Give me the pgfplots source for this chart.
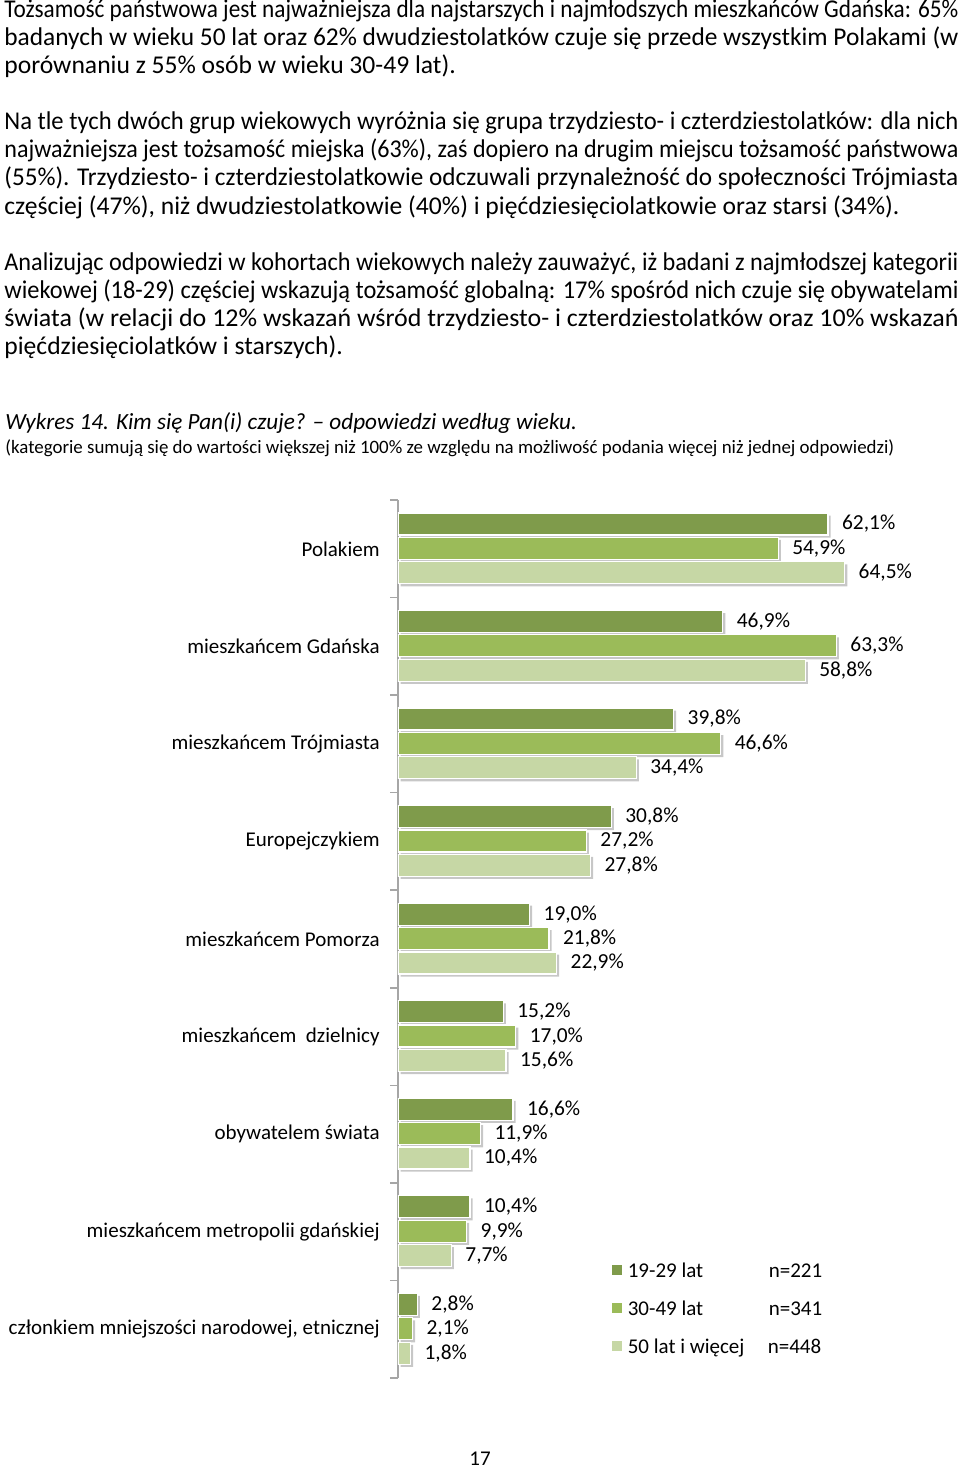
\documentclass[border=0pt]{standalone}
\usepackage{fontspec}
\setmainfont{Carlito}
\usepackage{graphicx}
\usepackage{pgfplots}
\pgfplotsset{compat=1.18}
\definecolor{cDark}{HTML}{7F9B4B}
\definecolor{cMid}{HTML}{9BBB59}
\definecolor{cLight}{HTML}{C6D7A5}
\newlength\jlw
\newcommand{\jl}[1]{\settowidth{\jlw}{#1}\ifdim\jlw>470pt \resizebox{477pt}{\height}{#1}\else\makebox[477pt][s]{#1}\fi}
\begin{document}
\begin{tikzpicture}
\useasboundingbox (0,0) rectangle (480pt,-734pt);
\tikzset{bt/.style={anchor=base west, inner sep=0pt, font=\fontsize{12.8}{15}\selectfont}}
% paragraph 1
\node[bt] at (2pt,-8.5pt) {\jl{Tożsamość państwowa jest najważniejsza dla najstarszych i najmłodszych mieszkańców Gdańska: 65\%}};
\node[bt] at (2pt,-22.5pt) {\jl{badanych w wieku 50 lat oraz 62\% dwudziestolatków czuje się przede wszystkim Polakami (w}};
\node[bt] at (2pt,-36.5pt) {porównaniu z 55\% osób w wieku 30-49 lat).};
% paragraph 2
\node[bt] at (2pt,-64.5pt) {\jl{Na tle tych dwóch grup wiekowych wyróżnia się grupa trzydziesto- i czterdziestolatków: dla nich}};
\node[bt] at (2pt,-78.5pt) {\jl{najważniejsza jest tożsamość miejska (63\%), zaś dopiero na drugim miejscu tożsamość państwowa}};
\node[bt] at (2pt,-92.5pt) {\jl{(55\%). Trzydziesto- i czterdziestolatkowie odczuwali przynależność do społeczności Trójmiasta}};
\node[bt] at (2pt,-107pt) {częściej (47\%), niż dwudziestolatkowie (40\%) i pięćdziesięciolatkowie oraz starsi (34\%).};
% paragraph 3
\node[bt] at (2pt,-135pt) {\jl{Analizując odpowiedzi w kohortach wiekowych należy zauważyć, iż badani z najmłodszej kategorii}};
\node[bt] at (2pt,-149pt) {\jl{wiekowej (18-29) częściej wskazują tożsamość globalną: 17\% spośród nich czuje się obywatelami}};
\node[bt] at (2pt,-163pt) {\jl{świata (w relacji do 12\% wskazań wśród trzydziesto- i czterdziestolatków oraz 10\% wskazań}};
\node[bt] at (2pt,-177pt) {pięćdziesięciolatków i starszych).};
% caption
\node[bt, font=\fontsize{11.6}{14}\selectfont\itshape] at (2.5pt,-214.5pt) {Wykres 14. Kim się Pan(i) czuje? – odpowiedzi według wieku.};
\node[bt, font=\fontsize{9.45}{11}\selectfont] at (2.5pt,-226.5pt) {(kategorie sumują się do wartości większej niż 100\% ze względu na możliwość podania więcej niż jednej odpowiedzi)};
% page number
\node[anchor=base, inner sep=0pt, font=\fontsize{10.5}{12}\selectfont] at (240pt,-732.5pt) {17};

\begin{axis}[
  at={(199pt,-689pt)}, anchor=south west,
  scale only axis, width=277pt, height=439pt,
  xmin=0, xmax=80, ymin=-0.5, ymax=8.5, y dir=reverse,
  axis x line=none, axis y line*=left,
  axis line style={draw=gray!70, line width=0.8pt},
  ytick={0,...,8},
  yticklabels={Polakiem, mieszkańcem Gdańska, mieszkańcem Trójmiasta, Europejczykiem, mieszkańcem Pomorza, mieszkańcem\ \ dzielnicy, obywatelem świata, mieszkańcem metropolii gdańskiej, {członkiem mniejszości narodowej, etnicznej}},
  major tick length=0pt,
  minor ytick={-0.5,0.5,...,8.5},
  minor tick length=4pt, tick align=outside,
  minor tick style={draw=gray!70, line width=0.8pt},
  yticklabel style={font=\fontsize{10.5}{12}\selectfont, inner sep=0pt, xshift=-9pt},
  xbar, bar width=11pt,
  point meta=x,
  /pgf/number format/.cd, fixed, fixed zerofill, precision=1, use comma, assume math mode=true,
  /pgfplots/.cd,
  legend cell align=left,
  legend image code/.code={\fill[#1] (0pt,-1.2pt) rectangle (5.4pt,4.2pt);},
  legend style={at={(axis cs:30.7,7.81)}, anchor=west, draw=none, fill=none, inner sep=0pt,
    row sep=9pt, font=\fontsize{10.5}{12}\selectfont,
    nodes={inner sep=0pt, text height=7.5pt, text depth=2.5pt},
    /tikz/every odd column/.append style={column sep=2.4pt}},
  lbl/.style={nodes near coords={\pgfmathprintnumber{\pgfplotspointmeta}\%},
    every node near coord/.append style={anchor=west, inner sep=0pt, xshift=6.75pt, font=\fontsize{10.7}{12}\selectfont, text=black}},
  sh/.style={forget plot, fill=black!22, draw=none, bar shift=0pt, xshift=1.3pt, yshift=-1.3pt},
]
% shadows
\addplot[sh] coordinates {(62.1,-0.255) (46.9,0.745) (39.8,1.745) (30.8,2.745) (19.0,3.745) (15.2,4.745) (16.6,5.745) (10.4,6.745) (2.8,7.745)};
\addplot[sh] coordinates {(54.9,-0.005) (63.3,0.995) (46.6,1.995) (27.2,2.995) (21.8,3.995) (17.0,4.995) (11.9,5.995) (9.9,6.995) (2.1,7.995)};
\addplot[sh] coordinates {(64.5,0.245) (58.8,1.245) (34.4,2.245) (27.8,3.245) (22.9,4.245) (15.6,5.245) (10.4,6.245) (7.7,7.245) (1.8,8.245)};
% bars
\addplot[fill=cDark, draw=white, line width=0.6pt, bar shift=0pt, lbl] coordinates {(62.1,-0.255) (46.9,0.745) (39.8,1.745) (30.8,2.745) (19.0,3.745) (15.2,4.745) (16.6,5.745) (10.4,6.745) (2.8,7.745)};
\addlegendentry{\makebox[70.5pt][l]{19-29 lat}n=221}
\addplot[fill=cMid, draw=white, line width=0.6pt, bar shift=0pt, lbl] coordinates {(54.9,-0.005) (63.3,0.995) (46.6,1.995) (27.2,2.995) (21.8,3.995) (17.0,4.995) (11.9,5.995) (9.9,6.995) (2.1,7.995)};
\addlegendentry{\makebox[70.5pt][l]{30-49 lat}n=341}
\addplot[fill=cLight, draw=white, line width=0.6pt, bar shift=0pt, lbl] coordinates {(64.5,0.245) (58.8,1.245) (34.4,2.245) (27.8,3.245) (22.9,4.245) (15.6,5.245) (10.4,6.245) (7.7,7.245) (1.8,8.245)};
\addlegendentry{\makebox[70pt][l]{50 lat i więcej}n=448}
\end{axis}
\end{tikzpicture}
\end{document}
